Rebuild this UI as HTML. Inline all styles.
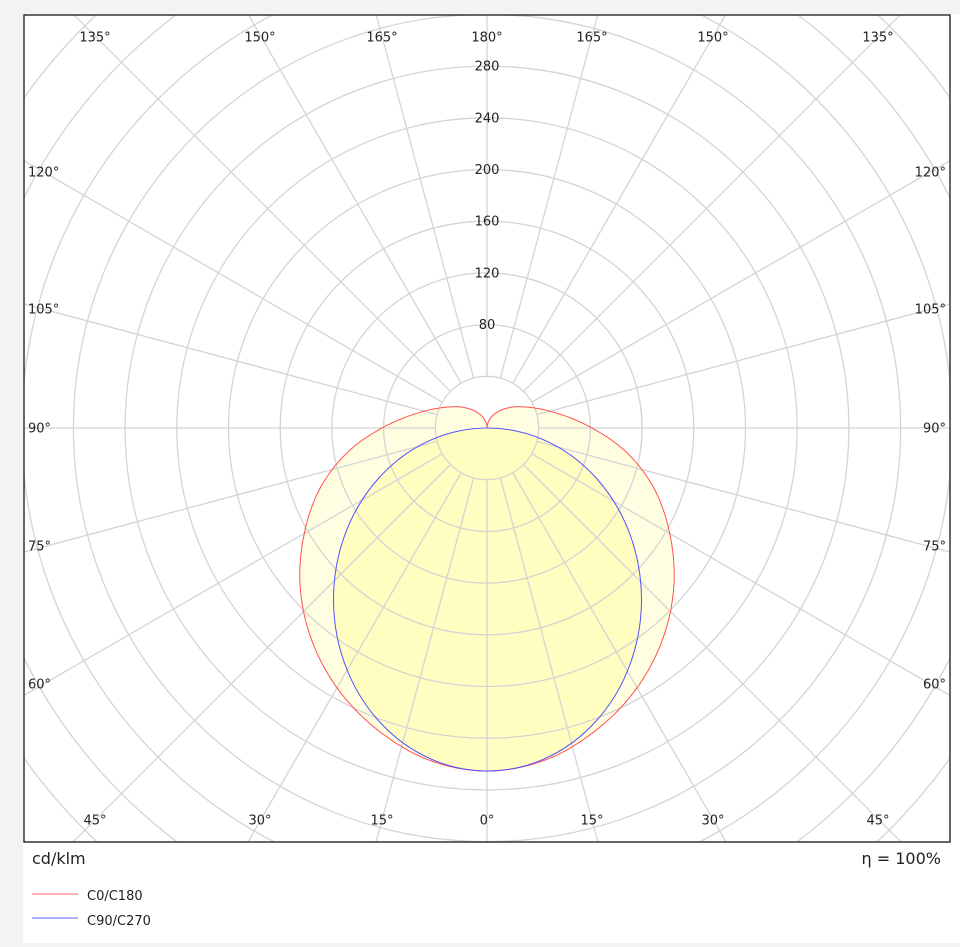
<!DOCTYPE html>
<html><head><meta charset="utf-8"><style>
html,body{margin:0;padding:0;background:#f3f3f3;overflow:hidden;width:960px;height:947px;}
body{position:relative;font-family:"DejaVu Sans","Liberation Sans",sans-serif;}
#panel{position:absolute;left:23px;top:14px;width:937px;height:929px;background:#fff;}
svg{position:absolute;left:0;top:0;display:block;}
</style></head><body>
<div id="panel"></div>
<svg id="s" width="960" height="947" xmlns="http://www.w3.org/2000/svg"></svg>
<script>
var s=document.getElementById('s'),NS='http://www.w3.org/2000/svg';
var cx=487,cy=428,k=51.7/40;
function el(t,a,txt){var e=document.createElementNS(NS,t);for(var n in a)e.setAttribute(n,a[n]);if(txt!==undefined)e.textContent=txt;s.appendChild(e);return e;}
var defs=el('defs',{});var cp=document.createElementNS(NS,'clipPath');cp.setAttribute('id','c');
var r=document.createElementNS(NS,'rect');r.setAttribute('x',24);r.setAttribute('y',15);r.setAttribute('width',926);r.setAttribute('height',827);cp.appendChild(r);defs.appendChild(cp);
var g=el('g',{'clip-path':'url(#c)'});
function ge(t,a){var e=document.createElementNS(NS,t);for(var n in a)e.setAttribute(n,a[n]);g.appendChild(e);return e;}
var tab=[[0,343],[10,337],[20,321],[30,300],[40,274],[50,244],[60,211],[70,178],[80,142],[90,105],[100,76],[110,56],[120,42],[135,28],[150,17],[165,8],[180,0]];
function rv(a){for(var i=0;i<tab.length-1;i++){if(a<=tab[i+1][0]){var p0=tab[Math.max(i-1,0)],p1=tab[i],p2=tab[i+1],p3=tab[Math.min(i+2,tab.length-1)];var t=(a-p1[0])/(p2[0]-p1[0]);
var m1=(p2[1]-p0[1])/2,m2=(p3[1]-p1[1])/2;if(i==0)m1=0;
var t2=t*t,t3=t2*t;return (2*t3-3*t2+1)*p1[1]+(t3-2*t2+t)*m1+(-2*t3+3*t2)*p2[1]+(t3-t2)*m2;}}return 0;}
var d='';for(var a=-180;a<=180;a+=0.5){var rr=rv(Math.abs(a)),th=a*Math.PI/180;var x=cx+rr*Math.sin(th),y=cy+rr*Math.cos(th);d+=(d?'L':'M')+x.toFixed(1)+' '+y.toFixed(1);}
ge('path',{d:d+'Z',fill:'rgba(255,252,170,0.35)',stroke:'none'});
ge('ellipse',{cx:487.5,cy:599.5,rx:154,ry:171.5,fill:'rgba(255,252,150,0.45)',stroke:'none'});
for(var i=1;i<=13;i++)ge('circle',{cx:cx,cy:cy,r:i*51.7,fill:'none',stroke:'#d4d4d4','stroke-width':1.3});
for(var a=0;a<360;a+=15){var th=a*Math.PI/180;ge('line',{x1:cx+51.7*Math.sin(th),y1:cy+51.7*Math.cos(th),x2:cx+800*Math.sin(th),y2:cy+800*Math.cos(th),stroke:'#d4d4d4','stroke-width':1.3});}
ge('path',{d:d+'Z',fill:'none',stroke:'#ff5050','stroke-width':1});
ge('ellipse',{cx:487.5,cy:599.5,rx:154,ry:171.5,fill:'none',stroke:'#5050ff','stroke-width':1});
el('rect',{x:24,y:15,width:926,height:827,fill:'none',stroke:'#333','stroke-width':1.5});
var st={'font-size':13,'fill':'#222','text-anchor':'middle','font-family':'DejaVu Sans, Liberation Sans, sans-serif'};
function tx(x,y,t,anc){var a=Object.assign({},st,{x:x,y:y+4.5});if(anc)a['text-anchor']=anc;el('text',a,t);}
[80,120,160,200,240,280].forEach(function(v){tx(487,cy-v*k,String(v));});
[[95,'135°'],[260,'150°'],[382,'165°'],[487,'180°'],[592,'165°'],[713,'150°'],[878,'135°']].forEach(function(p){tx(p[0],37,p[1]);});
[[95,'45°'],[260,'30°'],[382,'15°'],[487,'0°'],[592,'15°'],[713,'30°'],[878,'45°']].forEach(function(p){tx(p[0],820,p[1]);});
[[172,'120°'],[309,'105°'],[428,'90°'],[546,'75°'],[684,'60°']].forEach(function(p){tx(28,p[0],p[1],'start');tx(946,p[0],p[1],'end');});
el('text',{x:32,y:864,'font-size':16,fill:'#222','font-family':'DejaVu Sans, Liberation Sans, sans-serif'},'cd/klm');
el('text',{x:941,y:864,'font-size':16,fill:'#222','text-anchor':'end','font-family':'DejaVu Sans, Liberation Sans, sans-serif'},'η = 100%');
el('line',{x1:32,y1:894,x2:78,y2:894,stroke:'#ff8080','stroke-width':1.2});
el('line',{x1:32,y1:918,x2:78,y2:918,stroke:'#8080ff','stroke-width':1.2});
el('text',{x:87,y:900,'font-size':13,fill:'#222','font-family':'DejaVu Sans, Liberation Sans, sans-serif'},'C0/C180');
el('text',{x:87,y:925,'font-size':13,fill:'#222','font-family':'DejaVu Sans, Liberation Sans, sans-serif'},'C90/C270');
</script>
</body></html>
